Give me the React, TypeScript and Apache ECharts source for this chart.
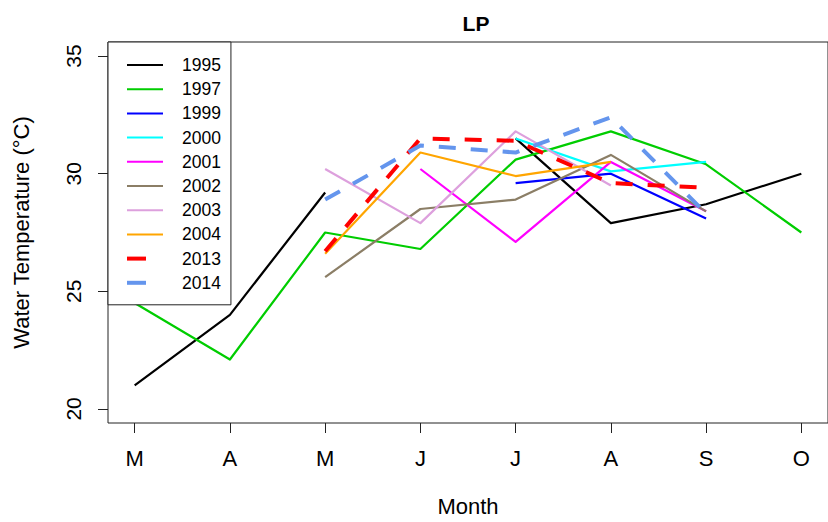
import React, { useEffect, useRef } from "react";
import * as echarts from "echarts";

// Month letters along the x axis (March .. October) and their positions
const MONTHS = ["M", "A", "M", "J", "J", "A", "S", "O"];
const MONTH_POS = [1, 2, 3, 4, 5, 6, 7, 8];
const TEMP_TICKS = [20, 25, 30, 35];

// Monthly water temperature (°C) per year; null = not sampled
const T1995 = [21.0, 24.0, 29.2, null, 31.5, 27.9, 28.7, 30.0];
const T1997 = [24.5, 22.1, 27.5, 26.8, 30.6, 31.8, 30.4, 27.5];
const T1999 = [null, null, null, null, 29.6, 30.0, 28.1, null];
const T2000 = [null, null, null, null, 31.5, 30.1, 30.5, null];
const T2001 = [null, null, null, 30.2, 27.1, 30.5, 28.4, null];
const T2002 = [null, null, 25.6, 28.5, 28.9, 30.8, 28.4, null];
const T2003 = [null, null, 30.2, 27.9, 31.8, 29.5, null, null];
const T2004 = [null, null, 26.6, 30.9, 29.9, 30.5, null, null];
const T2013 = [null, null, 26.7, 31.5, 31.4, 29.6, 29.4, null];
const T2014 = [null, null, 28.9, 31.2, 30.9, 32.4, 28.3, null];

const YEARS = ["1995", "1997", "1999", "2000", "2001", "2002", "2003", "2004", "2013", "2014"];
const SERIES_VALUES = [T1995, T1997, T1999, T2000, T2001, T2002, T2003, T2004, T2013, T2014];
const COLORS = [
  "#000000", "#00CD00", "#0000FF", "#00FFFF", "#FF00FF",
  "#8B7E66", "#DDA0DD", "#FFA500", "#FF0000", "#6495ED",
];
const DASHED_YEARS = ["2013", "2014"];

const FONT = "'Liberation Sans', Arial, sans-serif";

export default function App() {
  const ref = useRef<HTMLDivElement>(null);

  useEffect(() => {
    if (!ref.current) return;
    const chart = echarts.init(ref.current, null, { renderer: "svg" });

    const series = YEARS.map((year, k) => {
      const dashed = DASHED_YEARS.includes(year);
      return {
        name: year,
        type: "line",
        symbol: "none",
        connectNulls: false,
        data: SERIES_VALUES[k].map((v, i) => [MONTH_POS[i], v == null ? "-" : v]),
        lineStyle: {
          color: COLORS[k],
          width: dashed ? 4 : 2.2,
          type: dashed ? [17, 15] : "solid",
          cap: "butt",
          join: "round",
        },
        itemStyle: { color: COLORS[k] },
        emphasis: { disabled: true },
      };
    });

    // Legend entries; the dashed years show a single dash as their key
    const legendData = YEARS.map((year) =>
      DASHED_YEARS.includes(year)
        ? { name: year, lineStyle: { type: [19, 40], width: 4 } }
        : { name: year }
    );

    chart.setOption({
      animation: false,
      backgroundColor: "#ffffff",
      title: {
        text: "LP",
        left: 471,
        top: 8,
        textAlign: "center",
        textStyle: { fontFamily: FONT, fontWeight: "bold", fontSize: 21, color: "#000" },
      },
      grid: {
        left: 108,
        top: 42,
        width: 726,
        height: 383,
        show: true,
        borderColor: "#222",
        borderWidth: 1,
        backgroundColor: "transparent",
      },
      legend: {
        orient: "vertical",
        left: 108,
        top: 42,
        padding: [14, 10, 13, 17],
        borderColor: "#222",
        borderWidth: 1,
        backgroundColor: "#fff",
        itemWidth: 36,
        itemHeight: 14,
        itemGap: 6.2,
        selectedMode: false,
        itemStyle: { opacity: 0 },
        textStyle: {
          fontFamily: FONT,
          fontSize: 17.5,
          color: "#000",
          padding: [0, 0, 0, 14],
        },
        data: legendData,
      },
      xAxis: {
        type: "value",
        min: 0.72,
        max: 8.28,
        splitLine: { show: false },
        axisLine: { show: false },
        axisTick: { show: true, length: 10, customValues: MONTH_POS, lineStyle: { color: "#222" } },
        axisLabel: {
          customValues: MONTH_POS,
          margin: 24,
          fontFamily: FONT,
          fontSize: 22,
          color: "#000",
          formatter: (v: number) => MONTHS[Math.round(v) - 1] ?? "",
        },
        name: "Month",
        nameLocation: "middle",
        nameGap: 72,
        nameTextStyle: { fontFamily: FONT, fontSize: 22, color: "#000" },
      },
      yAxis: {
        type: "value",
        min: 19.4,
        max: 35.6,
        splitLine: { show: false },
        axisLine: { show: false },
        axisTick: { show: true, length: 10, customValues: TEMP_TICKS, lineStyle: { color: "#222" } },
        axisLabel: {
          customValues: TEMP_TICKS,
          rotate: 90,
          margin: 24,
          fontFamily: FONT,
          fontSize: 21,
          color: "#000",
        },
        name: "Water Temperature (°C)",
        nameLocation: "middle",
        nameGap: 76,
        nameRotate: 90,
        nameTextStyle: { fontFamily: FONT, fontSize: 22, color: "#000" },
      },
      series,
    });

    return () => chart.dispose();
  }, []);

  return (
    <div
      ref={ref}
      style={{ position: "fixed", left: 0, top: 0, width: 828, height: 522, background: "#fff" }}
    />
  );
}
